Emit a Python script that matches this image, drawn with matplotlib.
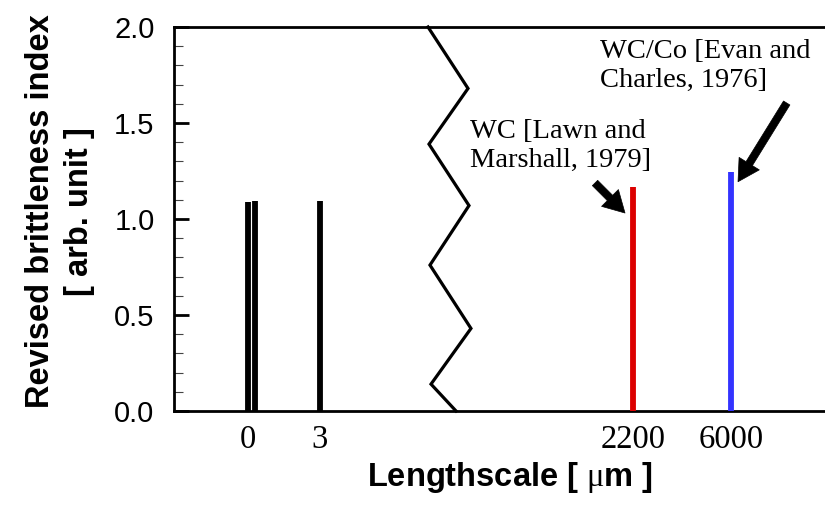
import numpy as np
import matplotlib
matplotlib.use("Agg")
import matplotlib.pyplot as plt
from matplotlib.ticker import MultipleLocator, FixedLocator, FixedFormatter
from matplotlib.transforms import blended_transform_factory

# ---- data -------------------------------------------------------------
lengthscale = [0.0, 0.3, 3.0, 2200.0, 6000.0]          # um
brittleness = [1.09, 1.095, 1.095, 1.165, 1.245]       # arb. unit
bar_colors = ["black", "black", "black", "#DC0000", "#3333FF"]

xtick_values = [0, 3, 2200, 6000]
xtick_labels = ["0", "3", "2200", "6000"]

label_wc = "WC [Lawn and\nMarshall, 1979]"
label_wcco = "WC/Co [Evan and\nCharles, 1976]"

# ---- broken lengthscale axis (piecewise-linear scale) -----------------
ls_knots = np.array([-20.0, 0.0, 3.0, 2200.0, 6000.0, 60000.0])
pos_knots = np.array([-406.5, 73.5, 145.5, 459.0, 557.0, 1949.6])


def forward(x):
    return np.interp(x, ls_knots, pos_knots)


def inverse(u):
    return np.interp(u, pos_knots, ls_knots)


# zig-zag break marker (x in axes fraction, y in data units)
break_x = [0.3872, 0.4482, 0.3887, 0.4497, 0.3902, 0.4527, 0.3918, 0.4299]
break_y = [2.0, 1.68, 1.39, 1.07, 0.76, 0.43, 0.14, 0.0]

plt.rcParams["mathtext.fontset"] = "custom"
plt.rcParams["mathtext.rm"] = "Liberation Serif"
plt.rcParams["mathtext.it"] = "Liberation Serif:italic"

W, H = 825, 508
fig = plt.figure(figsize=(W / 100, H / 100), dpi=100)
ax = fig.add_axes([174 / W, 97 / H, 656 / W, 384 / H])
ax.set_xscale("function", functions=(forward, inverse))
ax.set_xlim(float(inverse(0.0)), float(inverse(656.0)))
ax.set_ylim(0.0, 2.0)

# bars as thick vertical lines
ax.vlines(lengthscale, 0.0, brittleness, colors=bar_colors,
          linewidth=4.2, capstyle="butt", zorder=3)

# spines
for side in ("left", "top", "bottom"):
    ax.spines[side].set_linewidth(2.0)
ax.spines["right"].set_visible(False)

# y axis
ax.yaxis.set_major_locator(MultipleLocator(0.5))
ax.yaxis.set_minor_locator(MultipleLocator(0.1))
ax.yaxis.set_major_formatter(matplotlib.ticker.FormatStrFormatter("%.1f"))
ax.tick_params(axis="y", which="major", direction="in", length=11, width=2.0,
               labelsize=21, pad=14, right=False)
ax.tick_params(axis="y", which="minor", direction="in", length=6.5, width=0.8,
               right=False, color="#444444")
for lbl in ax.get_yticklabels():
    lbl.set_fontfamily("Liberation Sans")

# x axis
ax.xaxis.set_major_locator(FixedLocator(xtick_values))
ax.xaxis.set_major_formatter(FixedFormatter(xtick_labels))
ax.xaxis.set_minor_locator(matplotlib.ticker.NullLocator())
ax.tick_params(axis="x", which="major", length=0, labelsize=23.5, pad=10, top=False)
for lbl in ax.get_xticklabels():
    lbl.set_fontfamily("Liberation Serif")

ax.set_ylabel("Revised brittleness index\n[ arb. unit ]", fontsize=23.5,
              fontweight="bold", family="Liberation Sans", linespacing=1.3)
ax.yaxis.set_label_coords(-0.121, 0.5195)
ax.set_xlabel(r"Lengthscale [ $\mathrm{\mu}$m ]", fontsize=23.5,
              fontweight="bold", family="Liberation Sans")
ax.xaxis.set_label_coords(0.512, -0.128)

# axis break
trans = blended_transform_factory(ax.transAxes, ax.transData)
ax.plot(break_x, break_y, color="black", linewidth=2.3, transform=trans,
        clip_on=False, solid_joinstyle="miter", zorder=4)

# annotations (anchored at the baseline of the second line)
ax.text(0.4512, 0.6362, label_wc, transform=ax.transAxes, fontsize=20.5,
        family="Liberation Serif", ha="left", va="baseline", linespacing=1.2)
ax.text(0.6494, 0.8445, label_wcco, transform=ax.transAxes, fontsize=20.5,
        family="Liberation Serif", ha="left", va="baseline", linespacing=1.2)

arrow_style = "simple,head_length=0.85,head_width=0.95,tail_width=0.3"
ax.annotate("", xy=(0.6875, 0.5156), xytext=(0.6418, 0.5938),
            xycoords="axes fraction", textcoords="axes fraction",
            arrowprops=dict(arrowstyle=arrow_style, mutation_scale=18,
                            fc="black", ec="black", lw=0.5,
                            shrinkA=0, shrinkB=0))
ax.annotate("", xy=(0.8598, 0.5971), xytext=(0.934, 0.8021),
            xycoords="axes fraction", textcoords="axes fraction",
            arrowprops=dict(arrowstyle=arrow_style, mutation_scale=18,
                            fc="black", ec="black", lw=0.5,
                            shrinkA=0, shrinkB=0))

fig.savefig("out.png", dpi=100)
